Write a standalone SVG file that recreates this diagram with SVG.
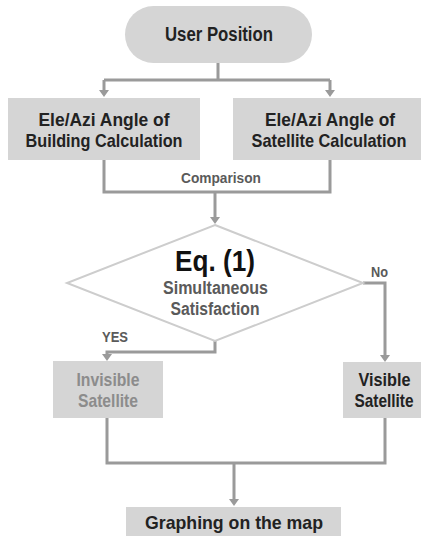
<svg xmlns="http://www.w3.org/2000/svg" width="421" height="536" viewBox="0 0 421 536">
<style>
.box{fill:#d5d5d5;stroke:none}
.t{font-family:"Liberation Sans",Arial,sans-serif;font-weight:bold;text-anchor:middle}
.dk{fill:#222}
.md{fill:#5a5a5a}
.lt{fill:#8c8c8c}
.c{fill:none;stroke:#9a9a9a;stroke-width:3}
.ah{fill:#9a9a9a}
</style>
<rect width="421" height="536" fill="#fff"/>
<g id="connectors">
<path class="c" d="M218,63 V80 M104,80 H330"/>
<path class="c" d="M104,80 V91"/>
<path class="c" d="M330,80 V91"/>
<path class="ah" d="M99,90 H109 L104,97 Z M325,90 H335 L330,97 Z"/>
<path class="c" d="M104,160 V192 H330 V160"/>
<path class="c" d="M215,192 V218"/>
<path class="ah" d="M210,217 H220 L215,224 Z"/>
<path class="c" d="M363,283 H385 V355"/>
<path class="ah" d="M380,355 H390 L385,362 Z"/>
<path class="c" d="M215,341 V352 H107 V355"/>
<path class="ah" d="M102,354 H112 L107,361 Z"/>
<path class="c" d="M107,418 V463 H385 V418 M234,463 V500"/>
<path class="ah" d="M229,499 H239 L234,506 Z"/>
</g>
<g id="user-position">
<rect x="125" y="6" width="187" height="57" rx="28.5" class="box"/>
<text class="t dk" x="219" y="41" font-size="19.5" textLength="108" lengthAdjust="spacingAndGlyphs">User Position</text>
</g>
<g id="building-calc">
<rect x="8" y="98" width="192" height="62" class="box"/>
<text class="t dk" x="104" y="126" font-size="19" textLength="131" lengthAdjust="spacingAndGlyphs">Ele/Azi Angle of</text>
<text class="t dk" x="104" y="147" font-size="19" textLength="157" lengthAdjust="spacingAndGlyphs">Building Calculation</text>
</g>
<g id="satellite-calc">
<rect x="233" y="98" width="188" height="62" class="box"/>
<text class="t dk" x="330" y="126" font-size="19" textLength="130" lengthAdjust="spacingAndGlyphs">Ele/Azi Angle of</text>
<text class="t dk" x="329" y="147" font-size="19" textLength="155" lengthAdjust="spacingAndGlyphs">Satellite Calculation</text>
</g>
<g id="comparison-label">
<text class="t md" x="221" y="183" font-size="14.5" textLength="80" lengthAdjust="spacingAndGlyphs">Comparison</text>
</g>
<g id="decision">
<path d="M215,225 L363,283 L215,341 L67,283 Z" fill="#fff" stroke="#cdcdcd" stroke-width="2"/>
<text class="t" x="215" y="271" font-size="29" fill="#111" textLength="80" lengthAdjust="spacingAndGlyphs">Eq. (1)</text>
<text class="t md" x="215.5" y="294" font-size="18" textLength="105" lengthAdjust="spacingAndGlyphs">Simultaneous</text>
<text class="t md" x="215" y="315" font-size="18" textLength="89" lengthAdjust="spacingAndGlyphs">Satisfaction</text>
</g>
<g id="labels">
<text class="t md" x="379.5" y="277" font-size="15" textLength="17" lengthAdjust="spacingAndGlyphs">No</text>
<text class="t md" x="115" y="342" font-size="15" textLength="26" lengthAdjust="spacingAndGlyphs">YES</text>
</g>
<g id="invisible">
<rect x="53" y="361" width="110" height="57" class="box"/>
<text class="t lt" x="108" y="386" font-size="19" textLength="63" lengthAdjust="spacingAndGlyphs">Invisible</text>
<text class="t lt" x="108" y="407" font-size="19" textLength="60" lengthAdjust="spacingAndGlyphs">Satellite</text>
</g>
<g id="visible">
<rect x="343" y="362" width="78" height="56" class="box"/>
<text class="t dk" x="384.5" y="386" font-size="19" textLength="52" lengthAdjust="spacingAndGlyphs">Visible</text>
<text class="t dk" x="384" y="407" font-size="19" textLength="59" lengthAdjust="spacingAndGlyphs">Satellite</text>
</g>
<g id="graphing">
<rect x="126" y="507" width="215" height="29" class="box"/>
<text class="t dk" x="234" y="529" font-size="19" textLength="178" lengthAdjust="spacingAndGlyphs">Graphing on the map</text>
</g>
</svg>
